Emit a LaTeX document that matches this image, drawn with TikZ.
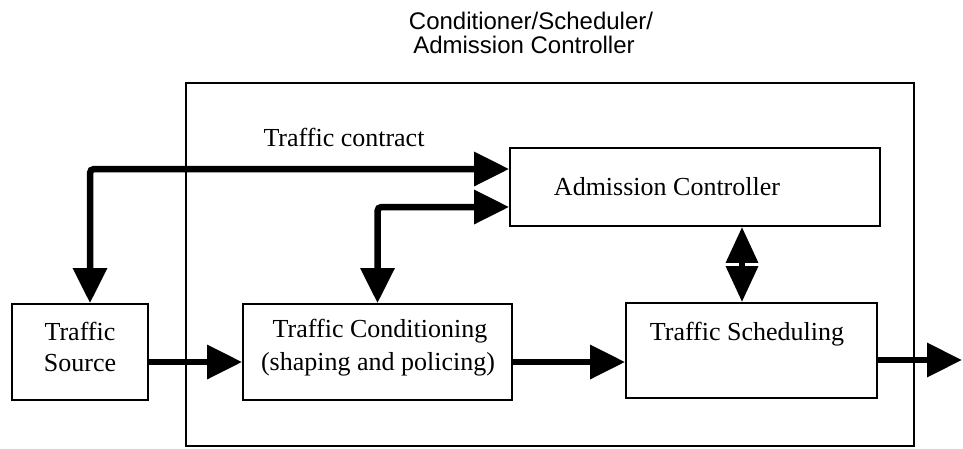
\documentclass[tikz,border=0pt]{standalone}
\usepackage{fontspec}
\setmainfont{Liberation Serif}
\newfontfamily\headsans{Liberation Sans}
\usetikzlibrary{arrows.meta}

\begin{document}
\begin{tikzpicture}[x=1pt,y=-1pt,
  box/.style={draw, line width=1.8pt, rectangle, inner sep=0pt},
  lbl/.style={anchor=base, inner sep=0pt, font=\fontsize{26}{30}\selectfont},
  headlbl/.style={anchor=base, inner sep=0pt, font=\headsans\fontsize{24}{28}\selectfont},
  bigtip/.tip={Triangle[length=35pt,width=33pt]},
  flow/.style={line width=6.5pt, -bigtip},
  bothway/.style={line width=6.5pt, bigtip-bigtip},
  pairtip/.tip={Triangle[length=36pt,width=31pt]},
  pairway/.style={line width=6.5pt, pairtip-pairtip}
]
\useasboundingbox (0,0) rectangle (963,448);

% enclosing conditioner/scheduler/admission controller
\node[box, minimum width=728pt, minimum height=363pt] (outer) at (550,264.5) {};
\node[headlbl] (head1) at (531,29) {Conditioner/Scheduler/};
\node[headlbl] (head2) at (524,53) {Admission Controller};

% functional blocks
\node[box, minimum width=136pt, minimum height=96pt] (src) at (80,352) {};
\node[box, minimum width=269pt, minimum height=96pt] (cond) at (377.5,352) {};
\node[box, minimum width=251pt, minimum height=95pt] (sched) at (751.5,350.5) {};
\node[box, minimum width=370pt, minimum height=78pt] (adm) at (695,187) {};

% block texts
\node[lbl] (srcA) at (80,340) {Traffic};
\node[lbl] (srcB) at (80,371) {Source};
\node[lbl] (condA) at (380,337) {Traffic Conditioning};
\node[lbl] (condB) at (378,370) {(shaping and policing)};
\node[lbl] (schedA) at (747,340) {Traffic Scheduling};
\node[lbl] (admA) at (667,195) {Admission Controller};
\node[lbl] (contract) at (344,146) {Traffic contract};

% data path
\coordinate (out) at (962,360);
\draw[flow] ([yshift=-10pt]src.east) -- ([yshift=-10pt]cond.west);
\draw[flow] ([yshift=-10pt]cond.east) -- ([yshift=-10pt]cond.east -| sched.west);
\draw[flow] ([yshift=-9.5pt]sched.east) -- (out);

% control paths
\draw[bothway, rounded corners=4pt] ([xshift=10pt]src.north) |- ([yshift=18pt]adm.west);
\draw[bothway, rounded corners=4pt] (cond.north) |- ([yshift=-20pt]adm.west);
\draw[pairway] ([xshift=47pt]adm.south) -- ([xshift=47pt]adm.south |- sched.north);
\end{tikzpicture}
\end{document}
